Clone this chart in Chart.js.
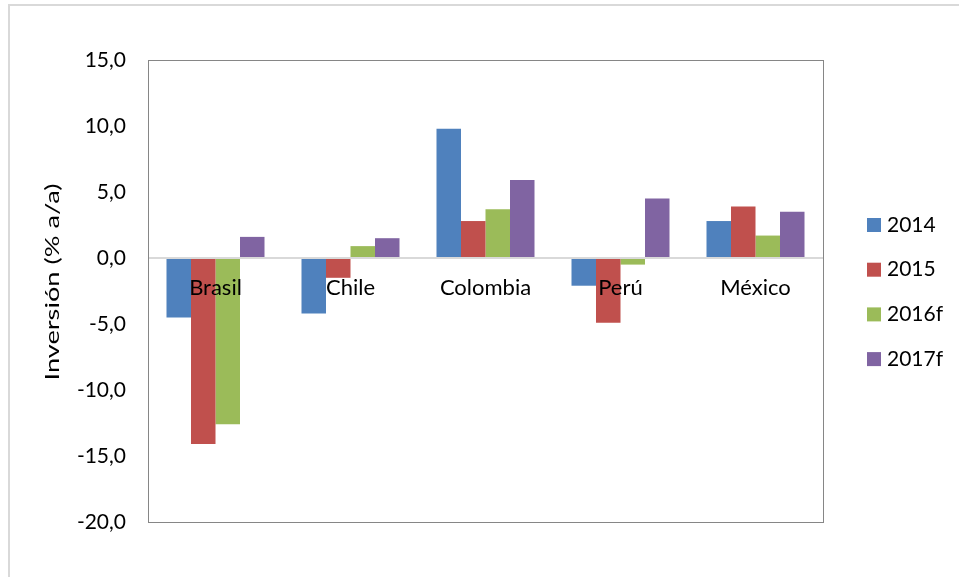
<!DOCTYPE html>
<html>
<head>
<meta charset="utf-8">
<script src="https://cdn.jsdelivr.net/npm/chart.js@4/dist/chart.umd.min.js"></script>
<style>
  html, body { margin: 0; padding: 0; background: #fff; overflow: hidden; }
  #marco { position: absolute; left: 8px; top: 4px; width: 1000px; height: 650px; border: 2px solid #d9d9d9; }
  #lienzo { position: absolute; left: 0; top: 0; }
</style>
</head>
<body>
<div id="marco"></div>
<canvas id="lienzo" width="959" height="577"></canvas>
<script>
// ==================== DATOS ====================
const paises = ['Brasil', 'Chile', 'Colombia', 'Perú', 'México'];
const anios = ['2014', '2015', '2016f', '2017f'];
const colores = ['#4F81BD', '#C0504D', '#9BBB59', '#8064A2'];

const inversion2014 = [-4.5, -4.2, 9.8, -2.1, 2.8];
const inversion2015 = [-14.1, -1.5, 2.8, -4.9, 3.9];
const inversion2016 = [-12.6, 0.9, 3.7, -0.5, 1.7];
const inversion2017 = [1.6, 1.5, 5.9, 4.5, 3.5];

const series = [inversion2014, inversion2015, inversion2016, inversion2017];
const tituloEje = 'Inversión (% a/a)';

const fuente = 'Lato, "Open Sans", sans-serif';

// Marco gris alrededor del área de trazado
const marcoArea = {
    id: 'marcoArea',
    afterDraw(chart) {
        const { ctx, chartArea } = chart;
        ctx.save();
        ctx.strokeStyle = '#868686';
        ctx.lineWidth = 1;
        ctx.strokeRect(Math.round(chartArea.left) + 0.5, Math.round(chartArea.top) + 0.5,
            Math.round(chartArea.width), Math.round(chartArea.height));
        ctx.restore();
    }
};

// Título del eje Y, girado y estirado a lo largo
const tituloY = {
    id: 'tituloY',
    afterDraw(chart) {
        const ctx = chart.ctx;
        const area = chart.chartArea;
        ctx.save();
        ctx.font = '20px ' + fuente;
        ctx.fillStyle = '#000';
        ctx.textAlign = 'center';
        ctx.textBaseline = 'alphabetic';
        const ancho = ctx.measureText(tituloEje).width;
        ctx.translate(59, (area.top + area.bottom) / 2 - 9);
        ctx.rotate(-Math.PI / 2);
        ctx.scale(197 / ancho, 1);
        ctx.fillText(tituloEje, 0, 0);
        ctx.restore();
    }
};

// Leyenda a la derecha, dibujada a mano
const leyenda = {
    id: 'leyenda',
    afterDraw(chart) {
        const ctx = chart.ctx;
        ctx.save();
        ctx.font = '21px ' + fuente;
        ctx.textBaseline = 'middle';
        chart.data.datasets.forEach((ds, i) => {
            const y = 225 + i * 44.7;
            ctx.fillStyle = ds.backgroundColor;
            ctx.fillRect(867, y - 7, 14, 14);
            ctx.fillStyle = '#000';
            ctx.fillText(ds.label, 887, y);
        });
        ctx.restore();
    }
};

const ctx = document.getElementById('lienzo').getContext('2d');

new Chart(ctx, {
    type: 'bar',
    data: {
        labels: paises,
        datasets: anios.map((anio, i) => ({
            label: anio,
            data: series[i],
            backgroundColor: colores[i],
            borderWidth: 0,
            categoryPercentage: 0.726,
            barPercentage: 1
        }))
    },
    options: {
        responsive: false,
        animation: false,
        layout: { padding: { left: 0, top: 60, right: 136, bottom: 55 } },
        plugins: {
            legend: { display: false },
            tooltip: { enabled: false }
        },
        scales: {
            x: {
                position: { y: 0 },
                grid: { display: false, drawTicks: false, tickLength: 0 },
                border: { display: false },
                ticks: {
                    z: 1,  // etiquetas por encima de las barras
                    color: '#000',
                    font: { family: fuente, size: 22 },
                    padding: 17,
                    maxRotation: 0
                }
            },
            y: {
                min: -20,
                max: 15,
                afterFit(escala) { escala.width = 148; },
                border: { display: false },
                grid: {
                    drawTicks: false,
                    tickLength: 0,
                    color: (c) => c.tick && c.tick.value === 0 ? '#d9d9d9' : 'rgba(0,0,0,0)',
                    lineWidth: (c) => c.tick && c.tick.value === 0 ? 2 : 0
                },
                ticks: {
                    stepSize: 5,
                    color: '#000',
                    font: { family: fuente, size: 21 },
                    padding: 22,
                    callback: (v) => v.toFixed(1).replace('.', ',')
                }
            }
        }
    },
    plugins: [marcoArea, tituloY, leyenda]
});
</script>
</body>
</html>
